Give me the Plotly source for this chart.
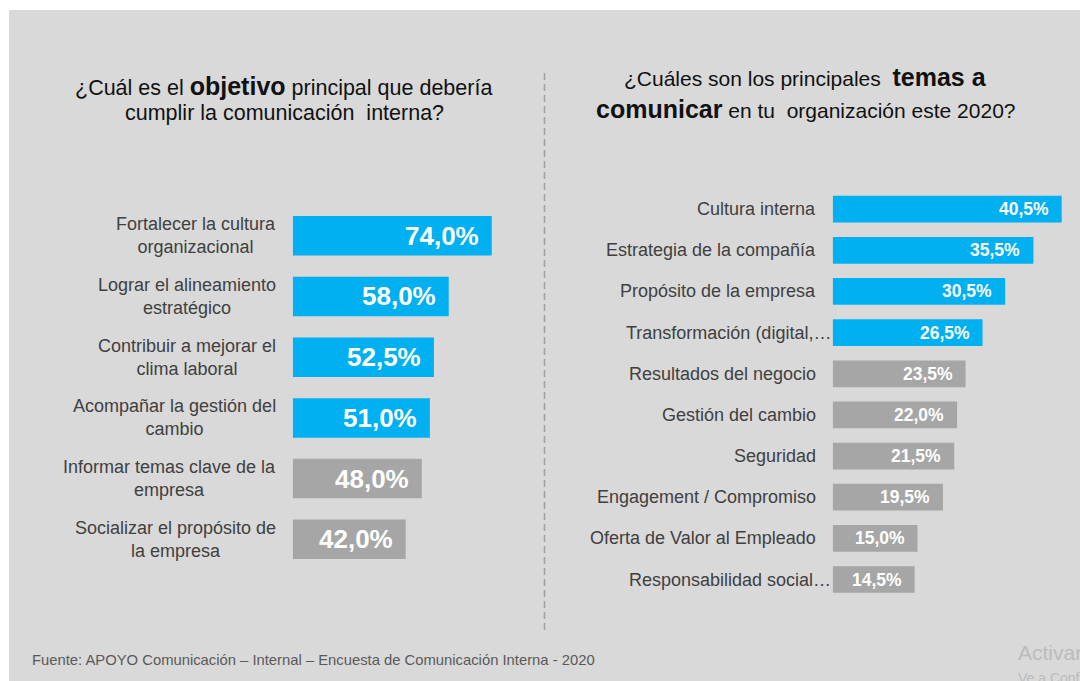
import plotly.graph_objects as go

# ---------------- data ----------------
left_categories = [
    "Fortalecer la cultura<br>organizacional",
    "Lograr el alineamiento<br>estratégico",
    "Contribuir a mejorar el<br>clima laboral",
    "Acompañar la gestión del<br>cambio",
    "Informar temas clave de la<br>empresa",
    "Socializar el propósito de<br>la empresa",
]
left_values = [74.0, 58.0, 52.5, 51.0, 48.0, 42.0]

right_categories = [
    "Cultura interna",
    "Estrategia de la compañía",
    "Propósito de la empresa",
    "Transformación (digital,…",
    "Resultados del negocio",
    "Gestión del cambio",
    "Seguridad",
    "Engagement / Compromiso",
    "Oferta de Valor al Empleado",
    "Responsabilidad social…",
]
right_values = [40.5, 35.5, 30.5, 26.5, 23.5, 22.0, 21.5, 19.5, 15.0, 14.5]

left_title_1 = "¿Cuál es el <b><span style='font-size:25px'>objetivo</span></b> principal que debería"
left_title_2 = "cumplir la comunicación  interna?"
right_title_1 = "¿Cuáles son los principales  <b><span style='font-size:25px'>temas a</span></b>"
right_title_2 = "<b><span style='font-size:25px'>comunicar</span></b> en tu  organización este 2020?"
source_text = "Fuente: APOYO Comunicación – Internal – Encuesta de Comunicación Interna - 2020"

# ---------------- style ----------------
PAGE_OFF = 8          # default body margin of the html page
W, H = 1088 - PAGE_OFF, 681 - PAGE_OFF
BLUE = "#00b0f0"
GREY_BAR = "#a6a6a6"
BG = "#d9d9d9"
HIGHLIGHT_N = 4
FONT = "Liberation Sans, Arial, sans-serif"


def px_x(p):
    return (p - PAGE_OFF) / W


def px_y(p):
    return 1 - (p - PAGE_OFF) / H


def fmt(v):
    return f"{v:.1f}".replace(".", ",") + "%"


left_colors = [BLUE if i < HIGHLIGHT_N else GREY_BAR for i in range(len(left_values))]
right_colors = [BLUE if i < HIGHLIGHT_N else GREY_BAR for i in range(len(right_values))]

fig = go.Figure()
fig.add_trace(go.Bar(
    x=left_values, y=left_categories, orientation="h",
    marker=dict(color=left_colors, line=dict(width=0)),
    xaxis="x", yaxis="y", hoverinfo="skip", showlegend=False,
))
fig.add_trace(go.Bar(
    x=right_values, y=right_categories, orientation="h",
    marker=dict(color=right_colors, line=dict(width=0)),
    xaxis="x2", yaxis="y2", hoverinfo="skip", showlegend=False,
))

annotations = []
# left category labels (centered lines, right-aligned block)
for c in left_categories:
    annotations.append(dict(
        x=px_x(278), xref="paper", y=c, yref="y", xanchor="right", yanchor="middle",
        text=c, align="center", showarrow=False,
        font=dict(family=FONT, size=18, color="#404040"),
    ))
# left value labels
for c, v in zip(left_categories, left_values):
    annotations.append(dict(
        x=v, xref="x", y=c, yref="y", xanchor="right", yanchor="middle", xshift=-11,
        text=f"<b>{fmt(v)}</b>", showarrow=False,
        font=dict(family=FONT, size=26, color="white"),
    ))
# right category labels
for c in right_categories:
    edge = 833 if c.endswith("…") else 818
    annotations.append(dict(
        x=px_x(edge), xref="paper", y=c, yref="y2", xanchor="right", yanchor="middle",
        text=c, align="right", showarrow=False,
        font=dict(family=FONT, size=18, color="#404040"),
    ))
# right value labels
for c, v in zip(right_categories, right_values):
    annotations.append(dict(
        x=v, xref="x2", y=c, yref="y2", xanchor="right", yanchor="middle", xshift=-11,
        text=f"<b>{fmt(v)}</b>", showarrow=False,
        font=dict(family=FONT, size=17.5, color="white"),
    ))

# titles
for txt, cx, cy, fs in [
    (left_title_1, 283, 86, 21.5), (left_title_2, 284, 113, 21.5),
    (right_title_1, 805, 77, 21), (right_title_2, 805, 109, 21),
]:
    annotations.append(dict(
        x=px_x(cx), y=px_y(cy), xref="paper", yref="paper",
        xanchor="center", yanchor="middle", text=txt, showarrow=False,
        font=dict(family=FONT, size=fs, color="#111111"),
    ))

# source
annotations.append(dict(
    x=px_x(30), y=px_y(660), xref="paper", yref="paper", xanchor="left", yanchor="middle",
    text=source_text, showarrow=False,
    font=dict(family=FONT, size=14.8, color="#595959"),
))
# watermark
annotations.append(dict(
    x=px_x(1016), y=px_y(652), xref="paper", yref="paper", xanchor="left", yanchor="middle",
    text="Activar Windows", showarrow=False,
    font=dict(family="Segoe UI, Liberation Sans, sans-serif", size=21, color="#bcbcbc"),
))
annotations.append(dict(
    x=px_x(1016), y=px_y(678), xref="paper", yref="paper", xanchor="left", yanchor="middle",
    text="Ve a Configuración para activar Windows.", showarrow=False,
    font=dict(family="Segoe UI, Liberation Sans, sans-serif", size=14, color="#bcbcbc"),
))

shapes = [
    dict(type="rect", xref="paper", yref="paper", x0=px_x(9), x1=1.0, y0=0, y1=px_y(10),
         fillcolor=BG, line=dict(width=0), layer="below"),
    dict(type="line", xref="paper", yref="paper", x0=px_x(544.5), x1=px_x(544.5),
         y0=px_y(73), y1=px_y(632), line=dict(color="#a0a0a0", width=1.5, dash="7px,4px")),
]

fig.update_layout(
    width=W, height=H,
    margin=dict(l=0, r=0, t=0, b=0),
    paper_bgcolor="white", plot_bgcolor="rgba(0,0,0,0)",
    bargap=0.35,
    xaxis=dict(domain=[px_x(292.7), px_x(292.7 + 100 * 2.69)], range=[0, 100],
               visible=False, fixedrange=True),
    yaxis=dict(domain=[px_y(569.65), px_y(205.45)], range=[len(left_values) - 0.5, -0.5],
               visible=False, fixedrange=True, type="category"),
    xaxis2=dict(domain=[px_x(832.7), px_x(832.7 + 45 * 5.654)], range=[0, 45],
                visible=False, fixedrange=True, anchor="y2"),
    yaxis2=dict(domain=[px_y(600.07), px_y(188.63)], range=[len(right_values) - 0.5, -0.5],
                visible=False, fixedrange=True, type="category", anchor="x2"),
    annotations=annotations,
    shapes=shapes,
    font=dict(family=FONT),
)

fig.write_html("out.html")
